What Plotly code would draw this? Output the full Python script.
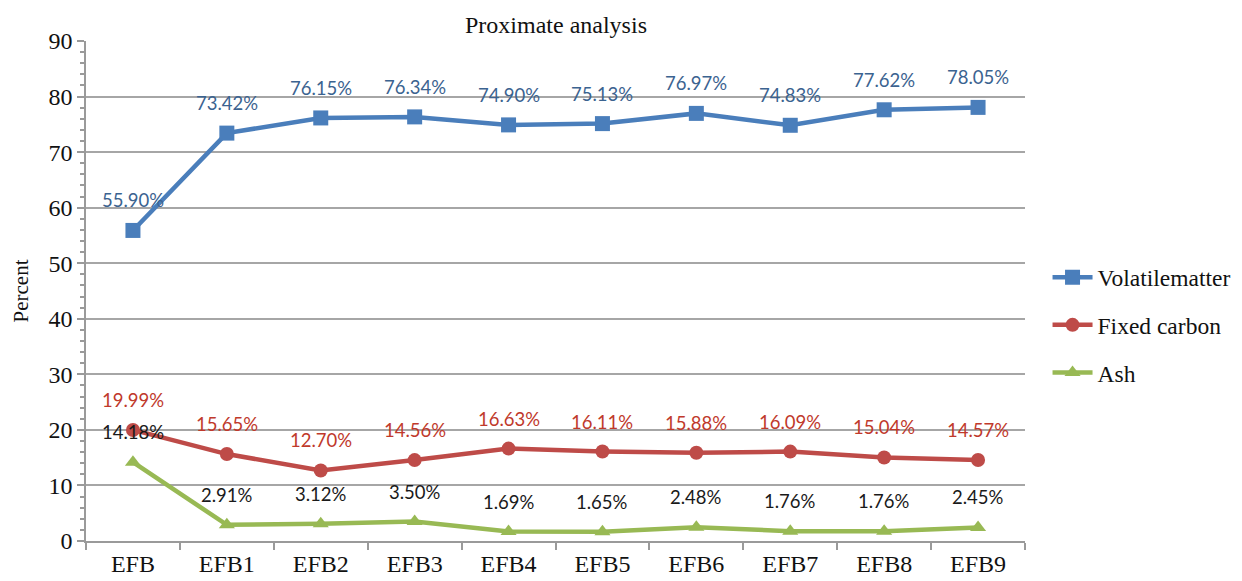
import plotly.graph_objects as go

categories = ["EFB", "EFB1", "EFB2", "EFB3", "EFB4", "EFB5", "EFB6", "EFB7", "EFB8", "EFB9"]
volatile = [55.90, 73.42, 76.15, 76.34, 74.90, 75.13, 76.97, 74.83, 77.62, 78.05]
fixed_carbon = [19.99, 15.65, 12.70, 14.56, 16.63, 16.11, 15.88, 16.09, 15.04, 14.57]
ash = [14.18, 2.91, 3.12, 3.50, 1.69, 1.65, 2.48, 1.76, 1.76, 2.45]

series = [
    ("Volatilematter", volatile, "#4a7ebb", "square", 15, "#3b6390"),
    ("Fixed carbon", fixed_carbon, "#be4b48", "circle", 14, "#c0392b"),
    ("Ash", ash, "#98b954", "triangle-up", 14, "#1a1a1a"),
]

SERIF = "Liberation Serif, Times New Roman, serif"
LBL = "Lato, sans-serif"

fig = go.Figure()
annotations = []
for i, (name, vals, color, sym, size, lblcolor) in enumerate(series):
    fig.add_trace(go.Scatter(
        x=categories, y=vals, name=name, mode="lines+markers",
        line=dict(color=color, width=4.5),
        marker=dict(symbol=sym, size=size, color=color),
        legendgroup=name,
    ))
    for c, v in zip(categories, vals):
        annotations.append(dict(
            x=c, y=v, xref="x", yref="y", text=f"{v:.2f}%", showarrow=False,
            yshift=30, font=dict(family=LBL, size=18.5, color=lblcolor),
        ))

annotations.append(dict(
    text="Proximate analysis", xref="paper", yref="paper", x=0.5, y=1, yshift=16,
    yanchor="middle", showarrow=False, font=dict(family=SERIF, size=24, color="#111"),
))

fig.update_layout(
    width=1242, height=581,
    margin=dict(l=73, r=225, t=33, b=48),
    paper_bgcolor="white", plot_bgcolor="white",
    annotations=annotations,
    showlegend=True,
    legend=dict(x=1.024, y=0.432, xanchor="left", yanchor="middle",
                font=dict(family=SERIF, size=23.5, color="#111"),
                tracegroupgap=14, itemwidth=40),
    xaxis=dict(
        type="category", showgrid=False, showline=True, linecolor="#9a9a9a", linewidth=1.5,
        ticks="outside", tickson="boundaries", ticklen=7, tickcolor="#9a9a9a", tickwidth=1.5,
        tickfont=dict(family=SERIF, size=24, color="#111"),
        range=[-0.5, 9.5],
    ),
    yaxis=dict(
        range=[0, 90], dtick=10, showgrid=True, gridcolor="#a6a6a6", gridwidth=1.5,
        showline=True, linecolor="#9a9a9a", linewidth=1.5,
        ticks="outside", ticklen=7, tickcolor="#9a9a9a", tickwidth=1.5,
        minor=dict(dtick=2, ticks="outside", ticklen=4, tickcolor="#9a9a9a", showgrid=False),
        tickfont=dict(family=SERIF, size=24, color="#111"),
        title=dict(text="Percent", font=dict(family=SERIF, size=21, color="#111"), standoff=14),
        zeroline=False,
    ),
)

fig.write_html("out.html")
